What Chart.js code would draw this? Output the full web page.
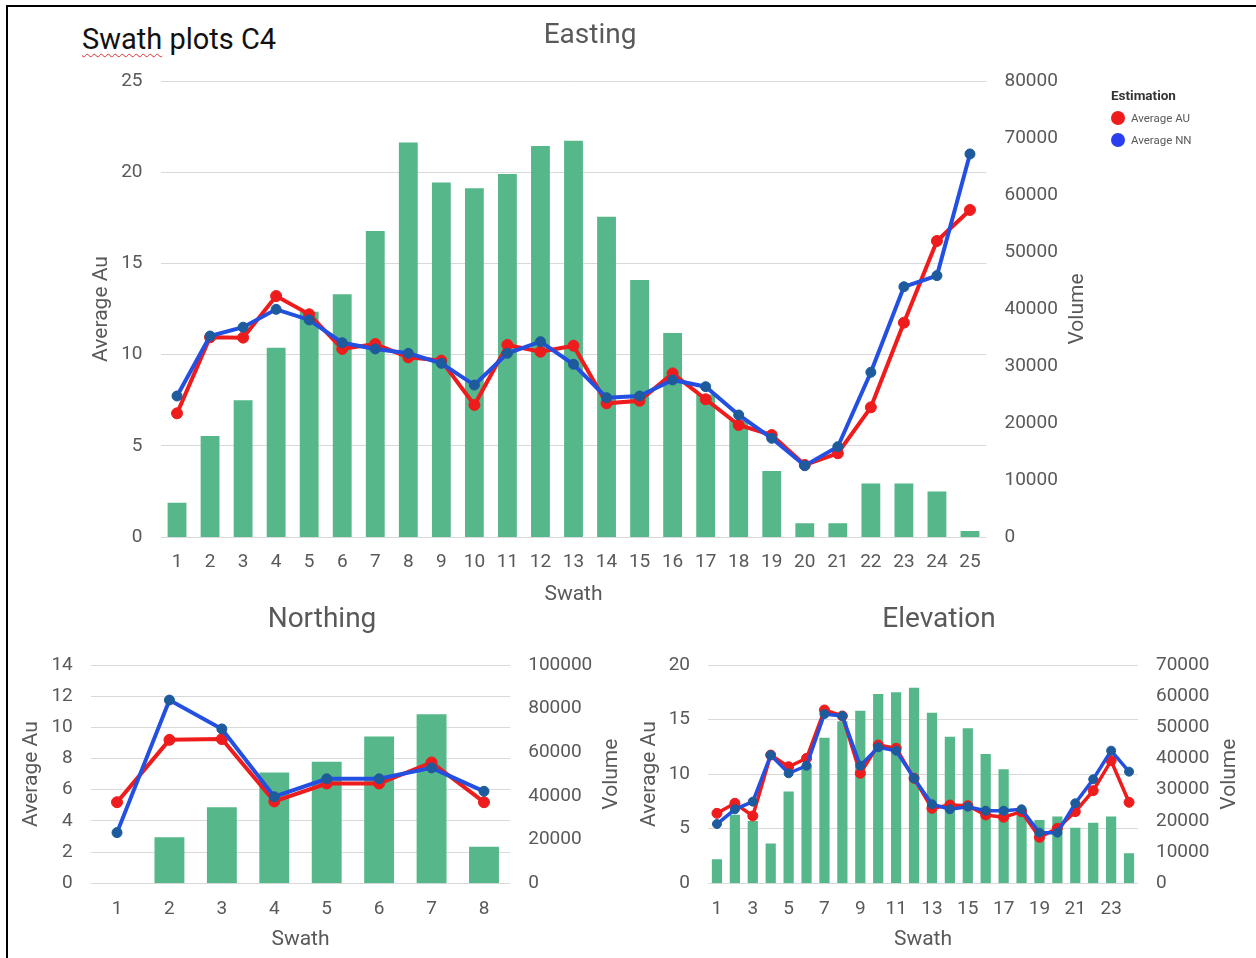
<!DOCTYPE html>
<html>
<head>
<meta charset="utf-8">
<title>Swath plots C4</title>
<script src="https://cdn.jsdelivr.net/npm/chart.js@4.4.1/dist/chart.umd.min.js"></script>
<style>
  html, body { margin: 0; padding: 0; background: #fff; }
  body { width: 1256px; height: 958px; position: relative; overflow: hidden;
         font-family: Roboto, "Liberation Sans", sans-serif; }
  .frame { position: absolute; left: 6px; top: 5px; width: 1300px; height: 1000px;
           border-left: 2px solid #000; border-top: 2px solid #000; }
  .sheet-title { position: absolute; left: 82px; top: 22px; font-size: 29px; color: #111;
                 white-space: nowrap; line-height: 34px; }
  .sheet-title .spell { text-decoration: underline wavy #e23030; text-decoration-thickness: 1px;
                        text-underline-offset: 4px; }
  canvas { position: absolute; }
  .legend { position: absolute; left: 1111px; top: 87px; }
  .legend .head { font-size: 13.5px; font-weight: bold; color: #333; margin-bottom: 4px; }
  .legend .item { font-size: 11.5px; color: #595959; height: 22px; line-height: 22px; white-space: nowrap; }
  .legend .dot { display: inline-block; width: 14px; height: 14px; border-radius: 50%;
                 vertical-align: middle; margin-right: 6px; position: relative; top: -1px; }
</style>
</head>
<body>
<div class="frame"></div>
<div class="sheet-title"><span class="spell">Swath</span> plots C4</div>

<canvas id="easting"></canvas>
<canvas id="northing"></canvas>
<canvas id="elevation"></canvas>

<div class="legend">
  <div class="head">Estimation</div>
  <div class="item"><span class="dot" id="dotAU"></span>Average AU</div>
  <div class="item"><span class="dot" id="dotNN"></span>Average NN</div>
</div>

<script>
// ---- Easting swaths ----
const eastSwath = ['1','2','3','4','5','6','7','8','9','10','11','12','13','14','15','16','17','18','19','20','21','22','23','24','25'];
const eastVolume = [6000, 17700, 24000, 33200, 39500, 42600, 53700, 69200, 62200, 61200, 63700, 68600, 69500, 56200, 45100, 35800, 25000, 20500, 11600, 2400, 2400, 9400, 9400, 8000, 1050];
const eastAvgAU = [6.78, 10.95, 10.93, 13.21, 12.21, 10.31, 10.58, 9.85, 9.67, 7.24, 10.53, 10.16, 10.49, 7.33, 7.47, 8.97, 7.55, 6.14, 5.59, 3.95, 4.59, 7.11, 11.75, 16.23, 17.93];
const eastAvgNN = [7.73, 11.02, 11.50, 12.48, 11.90, 10.65, 10.31, 10.07, 9.52, 8.33, 10.07, 10.71, 9.47, 7.64, 7.73, 8.61, 8.24, 6.69, 5.41, 3.91, 4.95, 9.03, 13.72, 14.33, 21.0];
const eastAuTicks = [0, 5, 10, 15, 20, 25];
const eastVolTicks = [0, 10000, 20000, 30000, 40000, 50000, 60000, 70000, 80000];

// ---- Northing swaths ----
const northSwath = ['1','2','3','4','5','6','7','8'];
const northVolume = [0, 21100, 34800, 50700, 55700, 67200, 77400, 16800];
const northAvgAU = [5.2, 9.2, 9.25, 5.25, 6.4, 6.4, 7.75, 5.2];
const northAvgNN = [3.25, 11.75, 9.9, 5.55, 6.7, 6.7, 7.4, 5.9];
const northAuTicks = [0, 2, 4, 6, 8, 10, 12, 14];
const northVolTicks = [0, 20000, 40000, 60000, 80000, 100000];

// ---- Elevation swaths ----
const elevSwath = ['1','2','3','4','5','6','7','8','9','10','11','12','13','14','15','16','17','18','19','20','21','22','23','24'];
const elevVolume = [7700, 22000, 20000, 12800, 29400, 38000, 46700, 52000, 55300, 60700, 61300, 62700, 54700, 47000, 49700, 41500, 36600, 24000, 20300, 21400, 17800, 19400, 21400, 9600];
const elevAvgAU = [6.41, 7.33, 6.17, 11.75, 10.68, 11.45, 15.88, 15.33, 10.08, 12.67, 12.37, 9.62, 6.87, 7.17, 7.11, 6.26, 6.05, 6.56, 4.21, 5.04, 6.56, 8.49, 11.23, 7.42];
const elevAvgNN = [5.43, 6.78, 7.48, 11.75, 10.08, 10.77, 15.51, 15.33, 10.77, 12.46, 12.15, 9.62, 7.24, 6.78, 7.02, 6.65, 6.65, 6.78, 4.64, 4.64, 7.33, 9.53, 12.15, 10.23];
const elevAuTicks = [0, 5, 10, 15, 20];
const elevVolTicks = [0, 10000, 20000, 30000, 40000, 50000, 60000, 70000];

// ---- shared styling ----
const FONT = 'Roboto, "Liberation Sans", sans-serif';
const TEXT = '#595959';
const GRID = '#d9d9d9';
const BAR = '#55b78a';
const RED = '#ee1c1c';
const BLUE = '#2350e0';
const BLUE_PT = '#1d5b9c';

document.getElementById('dotAU').style.background = RED;
document.getElementById('dotNN').style.background = '#2a3ff0';

// Secondary-axis title, drawn reading bottom-to-top like the primary one
const volumeTitle = {
  id: 'volumeTitle',
  afterDraw(chart, args, opts) {
    const { ctx, chartArea } = chart;
    ctx.save();
    ctx.translate(chartArea.right + opts.offset, (chartArea.top + chartArea.bottom) / 2);
    ctx.rotate(-Math.PI / 2);
    ctx.font = opts.size + 'px ' + FONT;
    ctx.fillStyle = TEXT;
    ctx.textAlign = 'center';
    ctx.textBaseline = 'middle';
    ctx.fillText(opts.text, 0, 0);
    ctx.restore();
  }
};

function swathChart(id, p) {
  const cv = document.getElementById(id);
  cv.width = p.w; cv.height = p.h;
  cv.style.left = p.x + 'px'; cv.style.top = p.y + 'px';
  cv.style.width = p.w + 'px'; cv.style.height = p.h + 'px';

  return new Chart(cv, {
    type: 'bar',
    data: {
      labels: p.labels,
      datasets: [
        { type: 'line', label: 'Average NN', data: p.nn, yAxisID: 'y', order: 0,
          borderColor: BLUE, backgroundColor: BLUE_PT, pointBackgroundColor: BLUE_PT,
          pointBorderColor: BLUE_PT, borderWidth: p.lw, pointRadius: p.pr, pointBorderWidth: 1, tension: 0 },
        { type: 'line', label: 'Average AU', data: p.au, yAxisID: 'y', order: 1,
          borderColor: RED, backgroundColor: RED, pointBackgroundColor: RED,
          pointBorderColor: RED, borderWidth: p.lw, pointRadius: p.pr + 0.5, pointBorderWidth: 1, tension: 0 },
        { type: 'bar', label: 'Volume', data: p.vol, yAxisID: 'y1', order: 2,
          backgroundColor: BAR, barPercentage: 0.57, categoryPercentage: 1.0 }
      ]
    },
    options: {
      responsive: false,
      animation: false,
      devicePixelRatio: 1,
      layout: { padding: { left: p.padL, right: 0, top: 0, bottom: 0 } },
      plugins: {
        legend: { display: false },
        tooltip: { enabled: false },
        title: { display: true, text: p.title, color: TEXT,
                 font: { family: FONT, size: 28, weight: 'normal' },
                 padding: { top: p.titleTop, bottom: p.titleBottom } },
        volumeTitle: { text: 'Volume', offset: p.volOffset, size: 21 }
      },
      scales: {
        x: {
          grid: { display: false, drawTicks: false },
          border: { display: false },
          ticks: { color: TEXT, font: { family: FONT, size: 19 }, padding: p.xTickPad,
                   autoSkip: false, maxRotation: 0,
                   callback: (v, i) => (i % p.every === 0 ? p.labels[i] : '') },
          title: { display: true, text: 'Swath', color: TEXT, font: { family: FONT, size: 21 },
                   padding: { top: 0, bottom: p.xTitlePad } },
          afterFit: s => { s.height = p.xh; }
        },
        y: {
          position: 'left',
          min: p.auTicks[0], max: p.auTicks[p.auTicks.length - 1],
          afterBuildTicks: s => { s.ticks = p.auTicks.map(v => ({ value: v })); },
          grid: { color: GRID, lineWidth: 1, drawTicks: false },
          border: { display: false },
          ticks: { color: TEXT, font: { family: FONT, size: 19 }, padding: p.yTickPad,
                   callback: v => String(v) },
          title: { display: true, text: 'Average Au', color: TEXT, font: { family: FONT, size: 21 },
                   padding: { top: p.yTitlePad, bottom: 0 } },
          afterFit: s => { s.width = p.yw; }
        },
        y1: {
          position: 'right',
          min: p.volTicks[0], max: p.volTicks[p.volTicks.length - 1],
          afterBuildTicks: s => { s.ticks = p.volTicks.map(v => ({ value: v })); },
          grid: { display: false, drawTicks: false },
          border: { display: false },
          ticks: { color: TEXT, font: { family: FONT, size: 19 }, padding: p.yTickPad,
                   callback: v => String(v) },
          afterFit: s => { s.width = p.y1w; }
        }
      }
    },
    plugins: [volumeTitle]
  });
}

swathChart('easting', {
  x: 0, y: 0, w: 1120, h: 615, padL: 60, yw: 100.5, y1w: 133.5, xh: 78,
  title: 'Easting', titleTop: 19.2, titleBottom: 28.2,
  labels: eastSwath, vol: eastVolume, au: eastAvgAU, nn: eastAvgNN,
  auTicks: eastAuTicks, volTicks: eastVolTicks, every: 1,
  xTickPad: 13.6, xTitlePad: 7.4, yTickPad: 18, yTitlePad: 29.4, volOffset: 91.5,
  lw: 4, pr: 5
});

swathChart('northing', {
  x: 0, y: 600, w: 634, h: 358, padL: 10, yw: 80.8, y1w: 123.8, xh: 74.7,
  title: 'Northing', titleTop: 3.2, titleBottom: 28.2,
  labels: northSwath, vol: northVolume, au: northAvgAU, nn: northAvgNN,
  auTicks: northAuTicks, volTicks: northVolTicks, every: 1,
  xTickPad: 14.3, xTitlePad: 5.4, yTickPad: 18, yTitlePad: 9.4, volOffset: 102,
  lw: 4, pr: 5
});

swathChart('elevation', {
  x: 620, y: 600, w: 628, h: 358, padL: 10, yw: 78, y1w: 110, xh: 74.7,
  title: 'Elevation', titleTop: 3.2, titleBottom: 28.2,
  labels: elevSwath, vol: elevVolume, au: elevAvgAU, nn: elevAvgNN,
  auTicks: elevAuTicks, volTicks: elevVolTicks, every: 2,
  xTickPad: 14.3, xTitlePad: 5.4, yTickPad: 18, yTitlePad: 7.4, volOffset: 92,
  lw: 3.5, pr: 4.5
});
</script>
</body>
</html>
